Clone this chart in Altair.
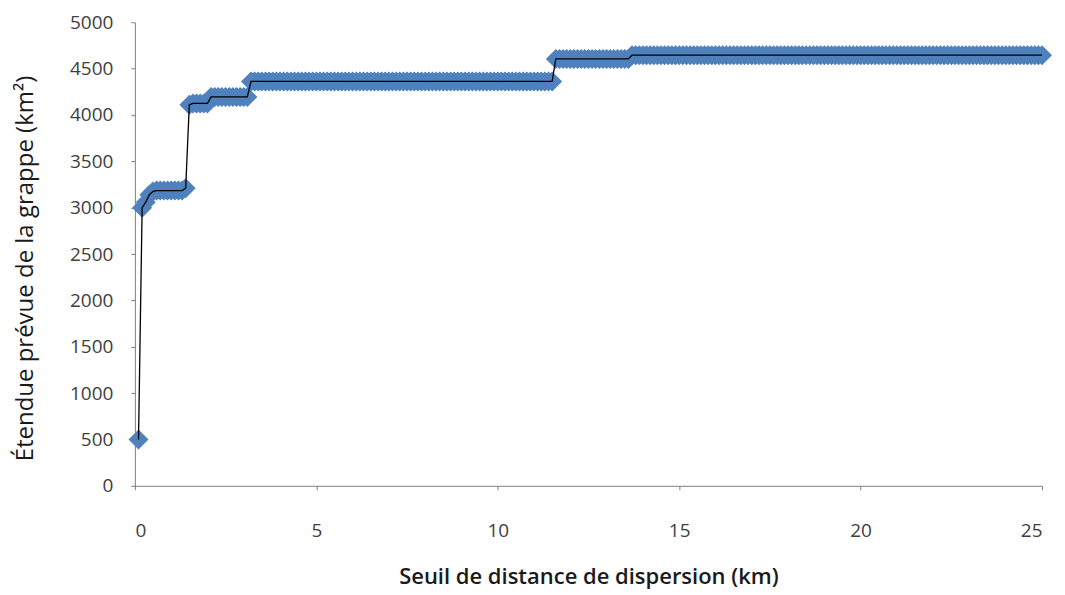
import altair as alt
import pandas as pd

# Sampling positions (km), one marker every 0.1 km from 0.1 to 25.0
x_start, x_step, n_points = 0.1, 0.1, 250

# Step levels (km²) and how many consecutive samples hold each
levels = [500, 3000, 3060, 3140, 3175, 3185, 3210, 4110, 4125, 4195, 4362, 4605, 4645]
runs   = [1,   1,    1,    1,    1,    8,    1,    1,    5,    11,   84,   21,   114]

x_ticks = [0, 5, 10, 15, 20, 25]
y_ticks = [0, 500, 1000, 1500, 2000, 2500, 3000, 3500, 4000, 4500, 5000]

y_vals = []
for lv, r in zip(levels, runs):
    y_vals += [lv] * r
x_vals = [round(x_start + i * x_step, 1) for i in range(n_points)]

df = pd.DataFrame({"x": x_vals, "y": y_vals})

FONT = "Open Sans"
xenc = alt.X("x:Q", scale=alt.Scale(domain=[0, 25], nice=False),
             axis=alt.Axis(values=x_ticks, format="d",
                           title="Seuil de distance de dispersion (km)",
                           grid=False, tickSize=4, labelPadding=32, titlePadding=26,
                           domainColor="#808080", tickColor="#808080",
                           labelFont=FONT, labelFontSize=19, labelColor="#404040",
                           titleFont=FONT, titleFontSize=22, titleFontWeight=600,
                           titleColor="#1a1a1a"))
yenc = alt.Y("y:Q", scale=alt.Scale(domain=[0, 5000], nice=False),
             axis=alt.Axis(values=y_ticks, format="d",
                           title="Étendue prévue de la grappe (km²)",
                           grid=False, tickSize=4, labelPadding=18, titlePadding=32,
                           titleY=246,
                           domainColor="#808080", tickColor="#808080",
                           labelFont=FONT, labelFontSize=19, labelColor="#404040",
                           titleFont=FONT, titleFontSize=24, titleFontWeight="normal",
                           titleColor="#1a1a1a"))

pts = alt.Chart(df).mark_point(shape="diamond", filled=True, size=400,
                               color="#4F81BD", opacity=1).encode(x=xenc, y=yenc)
line = alt.Chart(df).mark_line(color="#000000", strokeWidth=1.3).encode(x="x:Q", y="y:Q")

chart = (pts + line).properties(width=908, height=464).configure_view(stroke=None)
chart.save("out.html", embed_options={"renderer": "svg", "actions": False})
